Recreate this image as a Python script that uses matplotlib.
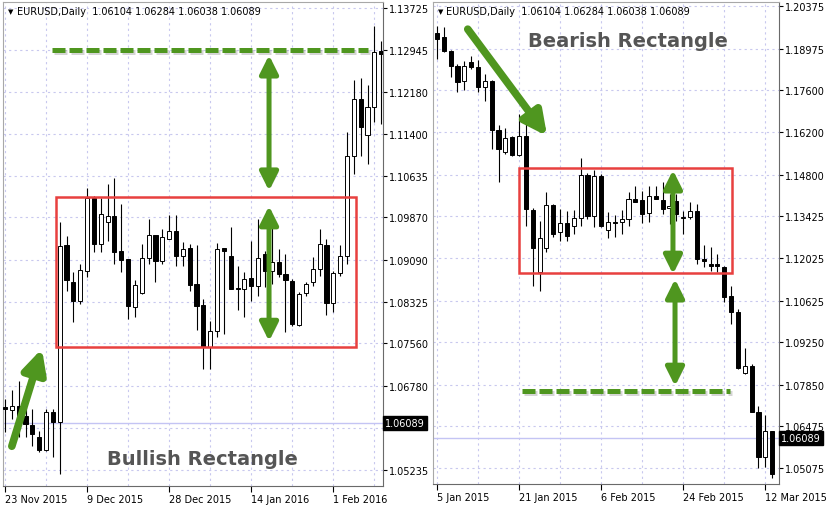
import matplotlib
matplotlib.use("Agg")
import matplotlib.pyplot as plt
import matplotlib.patheffects as pe
from matplotlib.patches import Rectangle
from matplotlib.transforms import blended_transform_factory
import numpy as np

# left chart: EURUSD daily, bullish rectangle (23 Nov 2015 .. Feb 2016)
bull_open = [1.0639, 1.0634, 1.0641, 1.0623, 1.0606, 1.0584, 1.0560, 1.0630, 1.0612, 1.0936,
             1.0869, 1.0834, 1.0889, 1.1023, 1.0938, 1.0979, 1.0990, 1.0925, 1.0911, 1.0822,
             1.0848, 1.0913, 1.0955, 1.0907, 1.0948, 1.0962, 1.0916, 1.0931, 1.0865, 1.0826,
             1.0749, 1.0779, 1.0931, 1.0916, 1.0858, 1.0856, 1.0876, 1.0861, 1.0920, 1.0889,
             1.0905, 1.0883, 1.0870, 1.0790, 1.0848, 1.0868, 1.0892, 1.0936, 1.0830, 1.0885,
             1.0916, 1.1100, 1.1205, 1.1138, 1.1190, 1.1293]
bull_high = [1.0654, 1.0670, 1.0687, 1.0639, 1.0635, 1.0595, 1.0635, 1.0635, 1.0979, 1.0953,
             1.0887, 1.0902, 1.1041, 1.1026, 1.1023, 1.1048, 1.1060, 1.1012, 1.0911, 1.0872,
             1.0938, 1.0984, 1.0955, 1.0966, 1.0992, 1.0992, 1.0942, 1.0938, 1.0936, 1.0837,
             1.0797, 1.0940, 1.0931, 1.0970, 1.0898, 1.0887, 1.0944, 1.0984, 1.0925, 1.0988,
             1.0929, 1.0920, 1.0874, 1.0850, 1.0868, 1.0914, 1.0966, 1.0947, 1.0889, 1.0936,
             1.1144, 1.1239, 1.1243, 1.1230, 1.1339, 1.1311]
bull_low = [1.0593, 1.0617, 1.0584, 1.0584, 1.0567, 1.0556, 1.0558, 1.0547, 1.0516, 1.0852,
            1.0795, 1.0828, 1.0878, 1.0924, 1.0924, 1.0944, 1.0902, 1.0887, 1.0801, 1.0804,
            1.0847, 1.0902, 1.0869, 1.0902, 1.0947, 1.0898, 1.0898, 1.0852, 1.0780, 1.0709,
            1.0709, 1.0768, 1.0773, 1.0856, 1.0817, 1.0804, 1.0834, 1.0843, 1.0859, 1.0865,
            1.0878, 1.0777, 1.0788, 1.0788, 1.0843, 1.0861, 1.0880, 1.0808, 1.0813, 1.0880,
            1.0902, 1.1067, 1.1100, 1.1085, 1.1162, 1.1159]
bull_close = [1.0635, 1.0641, 1.0623, 1.0608, 1.0589, 1.0560, 1.0630, 1.0612, 1.0935, 1.0872,
              1.0834, 1.0891, 1.1023, 1.0938, 1.0993, 1.0990, 1.0924, 1.0909, 1.0824, 1.0863,
              1.0913, 1.0955, 1.0907, 1.0951, 1.0962, 1.0916, 1.0929, 1.0863, 1.0824, 1.0749,
              1.0779, 1.0929, 1.0925, 1.0856, 1.0856, 1.0874, 1.0861, 1.0913, 1.0889, 1.0905,
              1.0883, 1.0872, 1.0791, 1.0847, 1.0865, 1.0892, 1.0938, 1.0830, 1.0885, 1.0916,
              1.1100, 1.1205, 1.1153, 1.1190, 1.1291, 1.1287]
bull_date_idx = [0, 12, 24, 36, 48]
bull_dates = ["23 Nov 2015", "9 Dec 2015", "28 Dec 2015", "14 Jan 2016", "1 Feb 2016"]
bull_yticks = [1.05235, 1.06005, 1.06780, 1.07560, 1.08325, 1.09090, 1.09870,
               1.10635, 1.11400, 1.12180, 1.12945, 1.13725]

# right chart: EURUSD daily, bearish rectangle (5 Jan 2015 .. Mar 2015)
bear_open = [1.1949, 1.1936, 1.1889, 1.1840, 1.1790, 1.1853, 1.1836, 1.1770, 1.1790, 1.1628,
             1.1555, 1.1605, 1.1545, 1.1608, 1.1363, 1.1158, 1.1237, 1.1379, 1.1290, 1.1320,
             1.1310, 1.1336, 1.1479, 1.1343, 1.1476, 1.1297, 1.1323, 1.1323, 1.1333, 1.1399,
             1.1396, 1.1353, 1.1409, 1.1396, 1.1370, 1.1393, 1.1336, 1.1340, 1.1360, 1.1201,
             1.1184, 1.1184, 1.1174, 1.1078, 1.1025, 1.0823, 1.0846, 1.0694, 1.0545, 1.0631]
bear_high = [1.1972, 1.1969, 1.1893, 1.1846, 1.1856, 1.1873, 1.1860, 1.1813, 1.1793, 1.1644,
             1.1635, 1.1608, 1.1681, 1.1648, 1.1370, 1.1326, 1.1423, 1.1383, 1.1366, 1.1360,
             1.1363, 1.1535, 1.1485, 1.1495, 1.1482, 1.1356, 1.1346, 1.1363, 1.1423, 1.1442,
             1.1426, 1.1442, 1.1442, 1.1456, 1.1416, 1.1416, 1.1360, 1.1389, 1.1383, 1.1247,
             1.1240, 1.1217, 1.1178, 1.1111, 1.1035, 1.0906, 1.0853, 1.0714, 1.0684, 1.0631]
bear_low = [1.1863, 1.1886, 1.1803, 1.1754, 1.1760, 1.1830, 1.1754, 1.1724, 1.1565, 1.1456,
            1.1548, 1.1542, 1.1542, 1.1310, 1.1111, 1.1095, 1.1224, 1.1274, 1.1260, 1.1260,
            1.1283, 1.1310, 1.1333, 1.1307, 1.1307, 1.1270, 1.1274, 1.1283, 1.1310, 1.1389,
            1.1320, 1.1323, 1.1399, 1.1350, 1.1317, 1.1326, 1.1283, 1.1333, 1.1184, 1.1174,
            1.1161, 1.1158, 1.1058, 1.0985, 1.0836, 1.0820, 1.0694, 1.0508, 1.0512, 1.0475]
bear_close = [1.1929, 1.1889, 1.1840, 1.1787, 1.1840, 1.1836, 1.1770, 1.1790, 1.1628, 1.1565,
              1.1601, 1.1545, 1.1608, 1.1366, 1.1237, 1.1270, 1.1379, 1.1283, 1.1320, 1.1277,
              1.1336, 1.1479, 1.1343, 1.1476, 1.1310, 1.1323, 1.1320, 1.1333, 1.1399, 1.1389,
              1.1350, 1.1409, 1.1399, 1.1366, 1.1376, 1.1350, 1.1340, 1.1360, 1.1201, 1.1194,
              1.1178, 1.1178, 1.1075, 1.1025, 1.0840, 1.0846, 1.0694, 1.0545, 1.0631, 1.0489]
bear_date_idx = [0, 12, 24, 36, 48]
bear_dates = ["5 Jan 2015", "21 Jan 2015", "6 Feb 2015", "24 Feb 2015", "12 Mar 2015"]
bear_yticks = [1.05075, 1.06475, 1.07850, 1.09250, 1.10625, 1.12025, 1.13425,
               1.14800, 1.16200, 1.17600, 1.18975, 1.20375]

bid = 1.06089
header = "EURUSD,Daily  1.06104 1.06284 1.06038 1.06089"

GREEN = "#4f961f"
RED = "#e8403f"
GRID = "#c8c8ee"

W, H = 831, 510
fig = plt.figure(figsize=(W / 100, H / 100), dpi=100)


def px_axes(x0, y0, x1, y1):
    return fig.add_axes([x0 / W, 1 - y1 / H, (x1 - x0) / W, (y1 - y0) / H])


def draw_candles(ax, o, h, l, c):
    o, h, l, c = map(np.asarray, (o, h, l, c))
    x = np.arange(len(o))
    ax.vlines(x, l, h, color="black", lw=0.8, zorder=3)
    up = c >= o
    bottom = np.minimum(o, c)
    height = np.maximum(np.abs(c - o), 0.00012)
    ax.bar(x, height, 0.6, bottom, color=np.where(up, "white", "black"),
           edgecolor="black", lw=0.7, zorder=4)


def style_axes(ax, n, date_idx, dates, yticks, xlim, ylim):
    ax.set_xlim(*xlim)
    ax.set_ylim(*ylim)
    ax.yaxis.tick_right()
    ax.set_yticks(yticks, ["" if abs(v - 1.06005) < 1e-6 else "%.5f" % v for v in yticks])
    ax.set_xticks(date_idx, dates, ha="left")
    ax.set_xticks([i for i in range(6, n, 12)], minor=True)
    ax.tick_params(axis="y", direction="out", length=3, width=0.8, pad=1.5, labelsize=7)
    ax.tick_params(axis="x", which="major", direction="out", length=4, width=0.8, pad=1.5, labelsize=7)
    ax.tick_params(axis="x", which="minor", length=0)
    ax.grid(True, which="both", color=GRID, ls=(0, (2, 3)), lw=0.8, zorder=0)
    ax.set_axisbelow(True)
    for s in ("left", "top"):
        ax.spines[s].set_color("#a8a8a8")
    for s in ("right", "bottom"):
        ax.spines[s].set_color("#6a6a6a")
    ax.axhline(bid, color="#c4c4f4", lw=1, zorder=1)
    tr = blended_transform_factory(ax.transAxes, ax.transData)
    ax.text(1.006, bid, "%.5f" % bid, transform=tr, ha="left", va="center", color="white",
            fontsize=7, clip_on=False, zorder=10,
            bbox=dict(boxstyle="square,pad=0.2", fc="black", ec="black"))
    ax.text(0.013, 0.982, "\u25bc", transform=ax.transAxes, fontsize=5, va="center")
    ax.text(0.038, 0.982, header, transform=ax.transAxes, fontsize=7, va="center")


shadow = [pe.SimpleLineShadow(offset=(1.5, -1.5), shadow_color="#888888", alpha=0.35), pe.Normal()]
pshadow = [pe.SimplePatchShadow(offset=(1.5, -1.5), shadow_rgbFace="#888888", alpha=0.35), pe.Normal()]


def double_arrow(ax, x, y0, y1):
    ax.annotate("", xy=(x, y1), xytext=(x, y0), zorder=8,
                arrowprops=dict(arrowstyle="<|-|>,head_length=1.1,head_width=0.55",
                                color=GREEN, lw=3.6, shrinkA=0, shrinkB=0,
                                mutation_scale=10, path_effects=pshadow))


def big_arrow(ax, x0, y0, x1, y1):
    ax.annotate("", xy=(x1, y1), xytext=(x0, y0), zorder=8,
                arrowprops=dict(arrowstyle="-|>,head_length=1.4,head_width=0.7",
                                color=GREEN, lw=5.5, shrinkA=0, shrinkB=0,
                                mutation_scale=10, capstyle="round", path_effects=pshadow))


# ---------------- left panel
ax1 = px_axes(3, 3, 383, 487)
draw_candles(ax1, bull_open, bull_high, bull_low, bull_close)
style_axes(ax1, len(bull_open), bull_date_idx, bull_dates, bull_yticks,
           (-0.29, 55.26), (1.0494, 1.13826))
ax1.add_patch(Rectangle((7.46, 1.0749), 51.3 - 7.46, 1.1025 - 1.0749,
                        fill=False, ec=RED, lw=1.8, zorder=6))
ax1.plot([6.9, 53.1], [1.1295, 1.1295], color=GREEN, lw=3.6, ls=(0, (2.6, 0.8)),
         zorder=7, path_effects=shadow)
double_arrow(ax1, 38.6, 1.1285, 1.1036)
double_arrow(ax1, 38.6, 1.1008, 1.0760)
big_arrow(ax1, 1.0, 1.0567, 5.4, 1.0746)
ax1.text(28.8, 1.0544, "Bullish Rectangle", ha="center", va="center",
         fontsize=14, fontweight="bold", color="#555555", zorder=9)

# ---------------- right panel
ax2 = px_axes(433, 3, 779, 485)
draw_candles(ax2, bear_open, bear_high, bear_low, bear_close)
style_axes(ax2, len(bear_open), bear_date_idx, bear_dates, bear_yticks,
           (-0.58, 50.0), (1.04555, 1.2052))
ax2.add_patch(Rectangle((12.0, 1.1154), 43.1 - 12.0, 1.1502 - 1.1154,
                        fill=False, ec=RED, lw=1.8, zorder=6))
ax2.plot([12.4, 42.8], [1.0764, 1.0764], color=GREEN, lw=3.6, ls=(0, (2.6, 0.8)),
         zorder=7, path_effects=shadow)
double_arrow(ax2, 34.5, 1.1495, 1.1151)
double_arrow(ax2, 34.8, 1.1134, 1.0780)
big_arrow(ax2, 4.5, 1.1962, 16.1, 1.1608)
ax2.text(27.9, 1.1923, "Bearish Rectangle", ha="center", va="center",
         fontsize=14, fontweight="bold", color="#555555", zorder=9)

fig.savefig("out.png", dpi=100)
